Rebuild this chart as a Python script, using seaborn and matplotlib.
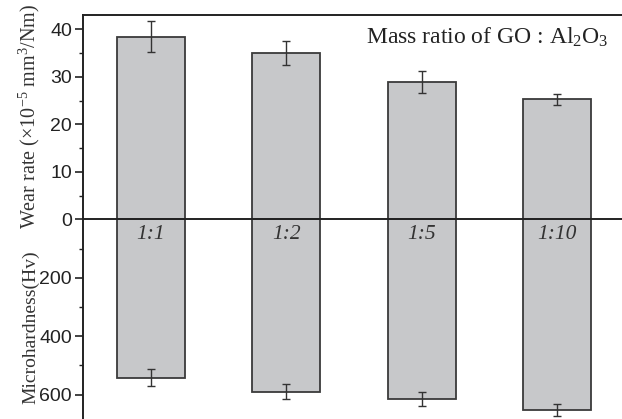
import matplotlib
matplotlib.use("Agg")
import matplotlib.pyplot as plt
from matplotlib.ticker import MultipleLocator, FixedLocator
import pandas as pd
import seaborn as sns

# GO : Al2O3 mass ratios and measured properties
ratios = ["1:1", "1:2", "1:5", "1:10"]
wear_rate = [38.5, 35.1, 29.0, 25.3]          # x10^-5 mm^3/Nm
wear_err = [3.2, 2.5, 2.3, 1.2]
hardness = [543, 590, 617, 652]                # Hv
hardness_err = [29, 25, 24, 21]

df = pd.DataFrame({"ratio": ratios, "wear": wear_rate, "hv": hardness})

sns.set_style("ticks")
plt.rcParams["font.family"] = ["Liberation Sans", "DejaVu Sans"]
plt.rcParams["mathtext.fontset"] = "custom"
plt.rcParams["mathtext.rm"] = "Liberation Serif"
plt.rcParams["mathtext.it"] = "Liberation Serif:italic"

bar_fill = "#c7c8ca"
bar_edge = "#3a3a3a"
ink = "#222222"
serif = ["Liberation Serif", "DejaVu Serif"]

W, H = 622, 419
fig = plt.figure(figsize=(W / 100, H / 100), dpi=100)
left = 83 / W
width = 542 / W
zero_y = (H - 219.5) / H
ax_bot = fig.add_axes([left, 0.0, width, zero_y])
ax_top = fig.add_axes([left, zero_y, width, 204.5 / H])

for ax, col in ((ax_top, "wear"), (ax_bot, "hv")):
    ax.patch.set_visible(False)
    sns.barplot(data=df, x="ratio", y=col, order=ratios, ax=ax,
                color=bar_fill, saturation=1, edgecolor=bar_edge,
                linewidth=1.3, width=0.5, errorbar=None)
    ax.set_xlim(-0.5, 3.5)
    ax.set_xlabel("")
    ax.set_ylabel("")
    ax.tick_params(axis="x", bottom=False, labelbottom=False)
    ax.tick_params(axis="y", which="major", direction="out", length=6,
                   width=1.2, color=ink, labelsize=14, labelcolor=ink, pad=2)
    ax.tick_params(axis="y", which="minor", direction="out", length=3,
                   width=1.0, color=ink)
    for s in ax.spines.values():
        s.set_linewidth(1.4)
        s.set_color(ink)
    ax.spines["right"].set_visible(False)

ax_top.errorbar(range(len(ratios)), wear_rate, yerr=wear_err, fmt="none",
                ecolor="#333333", elinewidth=1.0, capsize=3, capthick=1.0)
ax_bot.errorbar(range(len(ratios)), hardness, yerr=hardness_err, fmt="none",
                ecolor="#333333", elinewidth=1.0, capsize=3, capthick=1.0)

# upper panel: wear rate
ax_top.set_ylim(0, 43.05)
ax_top.yaxis.set_major_locator(FixedLocator([0, 10, 20, 30, 40]))
ax_top.yaxis.set_minor_locator(MultipleLocator(5))
ax_top.spines["bottom"].set_zorder(5)

# lower panel: microhardness, drawn downward from zero
ax_bot.set_ylim(684, 0)
ax_bot.yaxis.set_major_locator(FixedLocator([200, 400, 600]))
ax_bot.yaxis.set_minor_locator(FixedLocator([100, 300, 500]))
ax_bot.spines["top"].set_visible(False)
ax_bot.spines["bottom"].set_visible(False)

for i, r in enumerate(ratios):
    ax_bot.text(i, 50, r, ha="center", va="center", fontsize=15.5,
                style="italic", family=serif, color="#333333")

ax_top.text(0.969, 0.95, r"Mass ratio of GO : Al$_2$O$_3$", transform=ax_top.transAxes,
            ha="right", va="top", fontsize=17, family=serif, color=ink)

fig.text(35 / W, 1 - 116 / H, r"Wear rate (×10$^{-5}$ mm$^3$/Nm)", rotation=90,
         rotation_mode="anchor", ha="center", va="baseline",
         fontsize=14.5, family=serif, color="#333333")
fig.text(35 / W, 1 - 327 / H, "Microhardness(Hv)", rotation=90,
         rotation_mode="anchor", ha="center", va="baseline",
         fontsize=14, family=serif, color="#333333")

fig.savefig("out.png", dpi=100)
